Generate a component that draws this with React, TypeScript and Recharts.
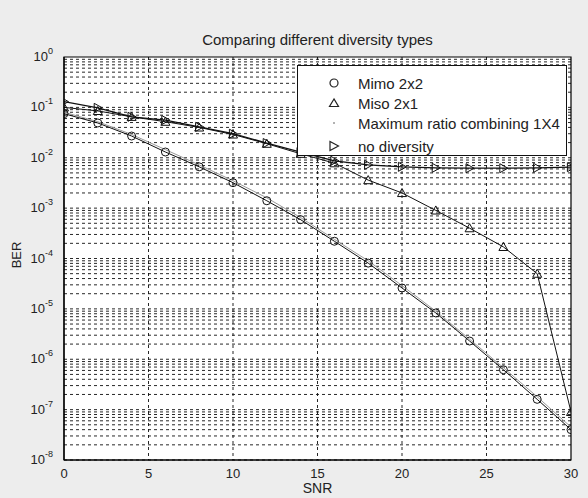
import React from 'react';
import { LineChart, Line, XAxis, YAxis, CartesianGrid, ReferenceArea } from 'recharts';

// ---- data ----
const snr = [0, 2, 4, 6, 8, 10, 12, 14, 16, 18, 20, 22, 24, 26, 28, 30];
const mimo2x2 = [0.075, 0.049, 0.027, 0.013, 0.0066, 0.0032, 0.0014, 5.9e-4, 2.2e-4, 8.1e-5, 2.6e-5, 8.3e-6, 2.3e-6, 6.2e-7, 1.6e-7, 4e-8];
const miso2x1 = [0.1, 0.085, 0.065, 0.052, 0.04, 0.029, 0.019, 0.012, 0.0078, 0.0036, 0.002, 9e-4, 4e-4, 1.7e-4, 5e-5, 9e-8];
const mrc1x4 = [0.08, 0.052, 0.029, 0.0145, 0.0072, 0.0035, 0.0016, 6.5e-4, 2.4e-4, 9e-5, 2.9e-5, 9e-6, 2.5e-6, 6.8e-7, 1.8e-7, 4.5e-8];
const noDiversity = [0.13, 0.098, 0.065, 0.056, 0.041, 0.03, 0.0196, 0.013, 0.0087, 0.0072, 0.0066, 0.0063, 0.0062, 0.0062, 0.0063, 0.0065];

const xTicks = [0, 5, 10, 15, 20, 25, 30];
const xGrid = [5, 10, 15, 20, 25];
const yTicks = [1, 1e-1, 1e-2, 1e-3, 1e-4, 1e-5, 1e-6, 1e-7, 1e-8];
const yTickExp = ['0', '-1', '-2', '-3', '-4', '-5', '-6', '-7', '-8'];
const minorMult = [1, 2, 3, 4, 5, 6, 7, 8, 9];

const titleText = 'Comparing different diversity types';
const xLabel = 'SNR';
const yLabel = 'BER';
const legendNames = ['Mimo 2x2', 'Miso 2x1', 'Maximum ratio combining 1X4', 'no diversity'];

const data = snr.map((s, i) => ({
  snr: s,
  mimo: mimo2x2[i],
  miso: miso2x1[i],
  mrc: mrc1x4[i],
  nodiv: noDiversity[i],
}));

// horizontal grid values (major + minor log lines)
const yGrid: number[] = [];
yTicks.slice(1).forEach((d) => {
  minorMult.forEach((m) => yGrid.push(d * m));
});

const FONT = '"Liberation Sans", Arial, Helvetica, sans-serif';
const TXT = '#222';

const YTick = (props: any) => {
  const { x, y, payload } = props;
  const idx = yTicks.findIndex((t) => Math.abs(Math.log10(t) - Math.log10(payload.value)) < 1e-6);
  return (
    <text x={x - 3} y={y + 4} textAnchor="end" fontSize={13} fill={TXT} fontFamily={FONT}>
      <tspan>10</tspan>
      <tspan dy={-7} fontSize={9}>{yTickExp[idx]}</tspan>
    </text>
  );
};

const XTick = (props: any) => {
  const { x, y, payload } = props;
  return (
    <text x={x} y={y + 10} textAnchor="middle" fontSize={13} fill={TXT} fontFamily={FONT}>
      {payload.value}
    </text>
  );
};

const CircleDot = (props: any) => {
  const { cx, cy, index } = props;
  if (cx == null || cy == null) return <g key={index} />;
  return <circle key={index} cx={cx} cy={cy} r={4} fill="none" stroke="#111" strokeWidth={1} />;
};

const TriUpDot = (props: any) => {
  const { cx, cy, index } = props;
  if (cx == null || cy == null) return <g key={index} />;
  const s = 4.5;
  return (
    <polygon
      key={index}
      points={`${cx},${cy - s} ${cx - s},${cy + s * 0.8} ${cx + s},${cy + s * 0.8}`}
      fill="none"
      stroke="#111"
      strokeWidth={1}
    />
  );
};

const TriRightDot = (props: any) => {
  const { cx, cy, index } = props;
  if (cx == null || cy == null) return <g key={index} />;
  const s = 4.5;
  return (
    <polygon
      key={index}
      points={`${cx + s},${cy} ${cx - s * 0.8},${cy - s} ${cx - s * 0.8},${cy + s}`}
      fill="none"
      stroke="#111"
      strokeWidth={1}
    />
  );
};

const legendIcons = [
  <svg width={12} height={12} key="a"><circle cx={6} cy={6} r={4} fill="none" stroke="#222" strokeWidth={1.2} /></svg>,
  <svg width={12} height={12} key="b"><polygon points="6,2 1.5,9.5 10.5,9.5" fill="none" stroke="#222" strokeWidth={1.2} /></svg>,
  <svg width={12} height={12} key="c"><circle cx={6} cy={6} r={1} fill="#999" /></svg>,
  <svg width={12} height={12} key="d"><polygon points="10.5,6 2,1.5 2,10.5" fill="none" stroke="#222" strokeWidth={1.2} /></svg>,
];
const legendRowY = [17, 37, 57, 80];

export default function App() {
  return (
    <div
      style={{
        position: 'absolute',
        left: 0,
        top: 0,
        width: 588,
        height: 498,
        background: '#ededed',
        overflow: 'hidden',
        fontFamily: FONT,
      }}
    >
      <LineChart
        width={588}
        height={498}
        data={data}
        margin={{ top: 57, right: 17, left: 0, bottom: 8 }}
      >
        <CartesianGrid
          fill="#ffffff"
          stroke="#111"
          strokeOpacity={0.9}
          strokeDasharray="3 3"
          horizontalValues={yGrid}
          verticalValues={xGrid}
        />
        <XAxis
          dataKey="snr"
          type="number"
          domain={[0, 30]}
          ticks={xTicks}
          interval={0}
          tick={<XTick />}
          tickLine={false}
          axisLine={{ stroke: '#000', strokeWidth: 1.2 }}
          height={30}
          allowDataOverflow
        />
        <YAxis
          type="number"
          scale="log"
          domain={[1e-8, 1]}
          ticks={yTicks}
          interval={0}
          tick={<YTick />}
          tickLine={false}
          axisLine={{ stroke: '#000', strokeWidth: 1.2 }}
          width={64}
          allowDataOverflow
        />
        <ReferenceArea x1={0} x2={30} y1={1e-8} y2={1} fill="none" stroke="#000" strokeWidth={1.2} ifOverflow="visible" />
        <Line dataKey="mrc" stroke="#9a9a9a" strokeWidth={1} dot={false} isAnimationActive={false} />
        <Line dataKey="nodiv" stroke="#111" strokeWidth={1.3} dot={<TriRightDot />} isAnimationActive={false} />
        <Line dataKey="miso" stroke="#111" strokeWidth={1} dot={<TriUpDot />} isAnimationActive={false} />
        <Line dataKey="mimo" stroke="#111" strokeWidth={1} dot={<CircleDot />} isAnimationActive={false} />
      </LineChart>

      {/* title */}
      <div style={{ position: 'absolute', left: 64, width: 507, top: 31, textAlign: 'center', fontSize: 15, color: TXT, lineHeight: '18px' }}>
        {titleText}
      </div>
      {/* x label */}
      <div style={{ position: 'absolute', left: 64, width: 507, top: 480, textAlign: 'center', fontSize: 14, color: TXT, lineHeight: '16px' }}>
        {xLabel}
      </div>
      {/* y label */}
      <div
        style={{
          position: 'absolute',
          left: 17,
          top: 255,
          transform: 'translate(-50%, -50%) rotate(-90deg)',
          fontSize: 13,
          color: TXT,
          lineHeight: '14px',
          whiteSpace: 'nowrap',
        }}
      >
        {yLabel}
      </div>

      {/* legend */}
      <div
        style={{
          position: 'absolute',
          left: 297,
          top: 65,
          width: 270,
          height: 91,
          background: '#fff',
          border: '1px solid #111',
          boxSizing: 'border-box',
        }}
      >
        {legendNames.map((name, i) => (
          <div key={name} style={{ position: 'absolute', left: 30, top: legendRowY[i] - 9, height: 18, display: 'flex', alignItems: 'center' }}>
            <div style={{ width: 12, height: 12, display: 'flex' }}>{legendIcons[i]}</div>
            <span style={{ marginLeft: 18, fontSize: 15, color: TXT, whiteSpace: 'nowrap' }}>{name}</span>
          </div>
        ))}
      </div>
    </div>
  );
}
